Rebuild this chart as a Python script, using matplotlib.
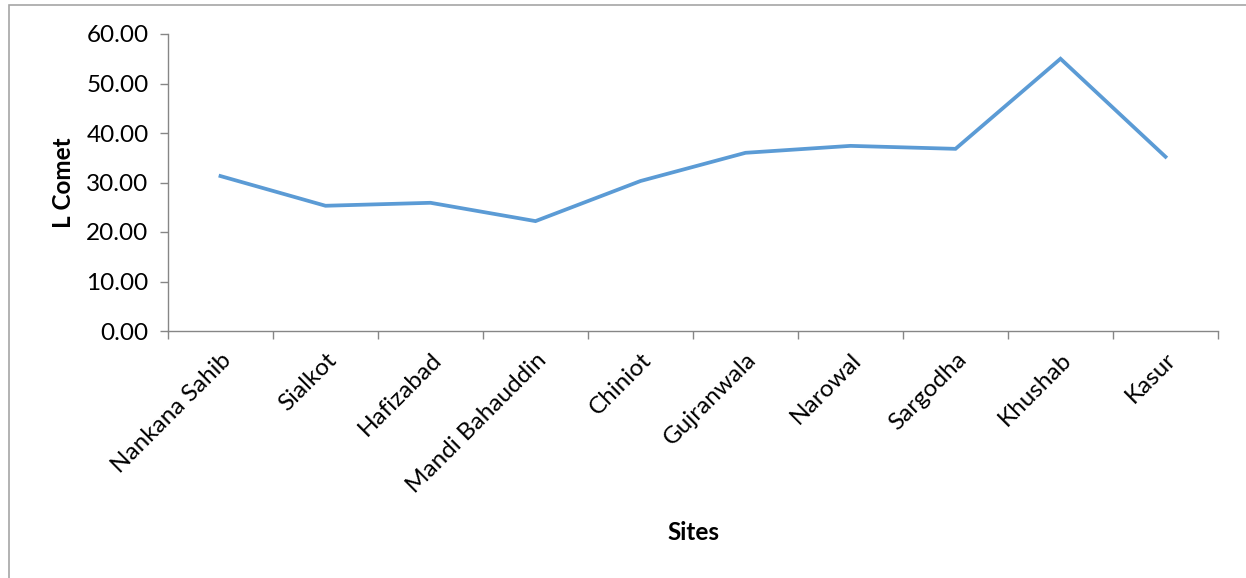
import matplotlib
matplotlib.use("Agg")
import matplotlib.pyplot as plt
from matplotlib.patches import Rectangle
import numpy as np

sites = ["Nankana Sahib", "Sialkot", "Hafizabad", "Mandi Bahauddin", "Chiniot",
         "Gujranwala", "Narowal", "Sargodha", "Khushab", "Kasur"]
l_comet = [31.3, 25.3, 25.9, 22.2, 30.3, 36.0, 37.4, 36.8, 55.0, 35.2]
y_ticks = [0, 10, 20, 30, 40, 50, 60]

plt.rcParams['font.family'] = ['Lato', 'DejaVu Sans']

fig = plt.figure(figsize=(12.46, 5.78), dpi=100)
ax = fig.add_axes([168/1246, (578-331)/578, (1218-168)/1246, (331-34)/578])

x = np.arange(len(sites))
ax.plot(x, l_comet, color="#5B9BD5", lw=2.7, solid_joinstyle="miter")

ax.set_xlim(-0.5, len(sites) - 0.5)
ax.set_ylim(0, 60)
ax.set_yticks(y_ticks)
ax.set_yticklabels([f"{v:.2f}" for v in y_ticks], fontsize=17.5)

ax.set_xticks(np.arange(-0.5, len(sites)), minor=False)
ax.set_xticklabels([])
ax.set_xticks(x, minor=True)
ax.set_xticklabels(sites, minor=True, rotation=45, ha="right", va="top",
                   rotation_mode="anchor", fontsize=17.5)
ax.tick_params(axis="x", which="major", length=6, color="#868686", width=1)
ax.tick_params(axis="x", which="minor", length=0, pad=13)
ax.tick_params(axis="y", length=6, color="#868686", width=1, pad=8)

for s in ["top", "right"]:
    ax.spines[s].set_visible(False)
for s in ["left", "bottom"]:
    ax.spines[s].set_color("#868686")
    ax.spines[s].set_linewidth(1)

ax.set_ylabel("L Comet", fontsize=17.5, fontweight="bold", labelpad=8)
fig.text(693/1246, 1 - 532/578, "Sites", fontsize=17.5, fontweight="bold",
         ha="center", va="center")

fig.patches.append(Rectangle((9/1246, -0.05), 1.1, 1 - 5/578 + 0.05, transform=fig.transFigure,
                             fill=False, edgecolor="#A6A6A6", lw=1.2))

fig.savefig("out.png", dpi=100)
